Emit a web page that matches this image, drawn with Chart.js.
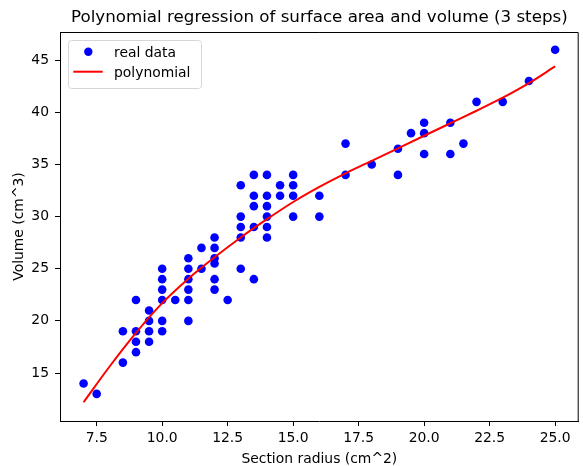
<!DOCTYPE html>
<html>
<head>
<meta charset="utf-8">
<script src="https://cdn.jsdelivr.net/npm/chart.js@4/dist/chart.umd.min.js"></script>
<style>
  html, body { margin: 0; padding: 0; background: #fff; }
  #wrap { width: 583px; height: 466px; position: relative; }
</style>
</head>
<body>
<div id="wrap"><canvas id="chart" width="583" height="466"></canvas></div>
<script>
// real data
const sectionRadius = [
    7, 7.5,
    8.5, 8.5,
    9, 9, 9, 9,
    9.5, 9.5, 9.5, 9.5,
    10, 10, 10, 10, 10, 10,
    10.5,
    11, 11, 11, 11, 11, 11,
    11.5, 11.5,
    12, 12, 12, 12, 12, 12,
    12.5,
    13, 13, 13, 13, 13,
    13.5, 13.5, 13.5, 13.5, 13.5,
    14, 14, 14, 14, 14, 14,
    14.5, 14.5,
    15, 15, 15, 15,
    16, 16,
    17, 17,
    18,
    19, 19,
    19.5,
    20, 20, 20,
    21, 21,
    21.5,
    22, 23, 24, 25
];
const volume = [
    14, 13,
    19, 16,
    22, 19, 18, 17,
    21, 20, 19, 18,
    25, 24, 23, 22, 20, 19,
    22,
    26, 25, 24, 23, 22, 20,
    27, 25,
    28, 27, 26, 25.5, 24, 23,
    22,
    33, 30, 29, 28, 25,
    34, 32, 31, 29, 24,
    34, 32, 31, 30, 29, 28,
    33, 32,
    34, 33, 32, 30,
    32, 30,
    37, 34,
    35,
    36.5, 34,
    38,
    39, 38, 36,
    39, 36,
    37,
    41, 41, 43, 46
];

// fitted curve
const curveX = [7, 8, 9, 10, 11, 12, 13, 14, 15, 16, 17, 18, 19, 20, 21, 22, 23, 24, 25];
const curveY = [12.2, 15.65, 18.85, 21.7, 24.05, 26.1, 28.0, 29.75, 31.4, 32.85, 34.15, 35.35,
    36.55, 37.75, 38.95, 40.15, 41.4, 42.8, 44.4];

const xTicks = [7.5, 10, 12.5, 15, 17.5, 20, 22.5, 25];
const yTicks = [15, 20, 25, 30, 35, 40, 45];

const titleText = 'Polynomial regression of surface area and volume (3 steps)';
const xLabel = 'Section radius (cm^2)';
const yLabel = 'Volume (cm^3)';
const legendLabels = ['real data', 'polynomial'];

const FONT = '"DejaVu Sans", sans-serif';

const decorPlugin = {
    id: 'decor',
    afterDraw(chart) {
        const ctx = chart.ctx;
        const a = chart.chartArea;
        ctx.save();

        // top and right spines
        ctx.strokeStyle = '#000';
        ctx.lineWidth = 1;
        ctx.beginPath();
        ctx.moveTo(a.left, a.top + 0.5);
        ctx.lineTo(a.right - 0.5, a.top + 0.5);
        ctx.lineTo(a.right - 0.5, a.bottom);
        ctx.stroke();

        ctx.fillStyle = '#000';
        ctx.textAlign = 'center';
        ctx.textBaseline = 'alphabetic';
        ctx.font = '16.7px ' + FONT;
        ctx.fillText(titleText, (a.left + a.right) / 2, 21.7);

        ctx.font = '13.9px ' + FONT;
        ctx.fillText(xLabel, (a.left + a.right) / 2, 463);

        ctx.save();
        ctx.translate(22.7, (a.top + a.bottom) / 2);
        ctx.rotate(-Math.PI / 2);
        ctx.fillText(yLabel, 0, 0);
        ctx.restore();

        // legend box
        const bx = 68.5, by = 40.5, bw = 133, bh = 48, r = 3;
        ctx.beginPath();
        ctx.moveTo(bx + r, by);
        ctx.arcTo(bx + bw, by, bx + bw, by + bh, r);
        ctx.arcTo(bx + bw, by + bh, bx, by + bh, r);
        ctx.arcTo(bx, by + bh, bx, by, r);
        ctx.arcTo(bx, by, bx + bw, by, r);
        ctx.closePath();
        ctx.fillStyle = 'rgba(255,255,255,0.8)';
        ctx.fill();
        ctx.strokeStyle = '#d6d6d6';
        ctx.stroke();

        ctx.fillStyle = '#0000ff';
        ctx.beginPath();
        ctx.arc(88.3, 51.7, 4.2, 0, Math.PI * 2);
        ctx.fill();

        ctx.strokeStyle = '#ff0000';
        ctx.lineWidth = 2;
        ctx.beginPath();
        ctx.moveTo(73.3, 71.7);
        ctx.lineTo(102.7, 71.7);
        ctx.stroke();

        ctx.fillStyle = '#000';
        ctx.textAlign = 'left';
        ctx.fillText(legendLabels[0], 114, 56.5);
        ctx.fillText(legendLabels[1], 114, 76.5);

        ctx.restore();
    }
};

new Chart(document.getElementById('chart'), {
    type: 'scatter',
    data: {
        datasets: [{
            label: legendLabels[0],
            data: sectionRadius.map(function (x, i) { return { x: x, y: volume[i] }; }),
            backgroundColor: '#0000ff',
            borderWidth: 0,
            pointRadius: 4.3,
            pointHoverRadius: 4.3,
            order: 1
        }, {
            label: legendLabels[1],
            type: 'line',
            data: curveX.map(function (x, i) { return { x: x, y: curveY[i] }; }),
            borderColor: '#ff0000',
            borderWidth: 2,
            pointRadius: 0,
            fill: false,
            cubicInterpolationMode: 'monotone',
            order: 0
        }]
    },
    options: {
        responsive: false,
        animation: false,
        devicePixelRatio: 1,
        layout: { padding: { left: 0, right: 1, top: 32, bottom: 0 } },
        plugins: {
            legend: { display: false },
            title: { display: false },
            tooltip: { enabled: false }
        },
        scales: {
            x: {
                type: 'linear',
                min: 6.1,
                max: 25.9,
                afterBuildTicks: function (scale) {
                    scale.ticks = xTicks.map(function (v) { return { value: v }; });
                },
                afterFit: function (scale) { scale.height = 45; },
                ticks: {
                    color: '#000',
                    font: { family: FONT, size: 13.9 },
                    padding: 4,
                    maxRotation: 0,
                    autoSkip: false,
                    callback: function (v) { return Number(v).toFixed(1); }
                },
                grid: { drawOnChartArea: false, drawTicks: true, tickLength: 5, color: '#000' },
                border: { display: true, color: '#000', width: 1 }
            },
            y: {
                type: 'linear',
                min: 10.4,
                max: 47.7,
                afterBuildTicks: function (scale) {
                    scale.ticks = yTicks.map(function (v) { return { value: v }; });
                },
                afterFit: function (scale) { scale.width = 60; },
                ticks: {
                    color: '#000',
                    font: { family: FONT, size: 13.9 },
                    padding: 6,
                    autoSkip: false,
                    callback: function (v) { return String(v); }
                },
                grid: { drawOnChartArea: false, drawTicks: true, tickLength: 5, color: '#000' },
                border: { display: true, color: '#000', width: 1 }
            }
        }
    },
    plugins: [decorPlugin]
});
</script>
</body>
</html>
